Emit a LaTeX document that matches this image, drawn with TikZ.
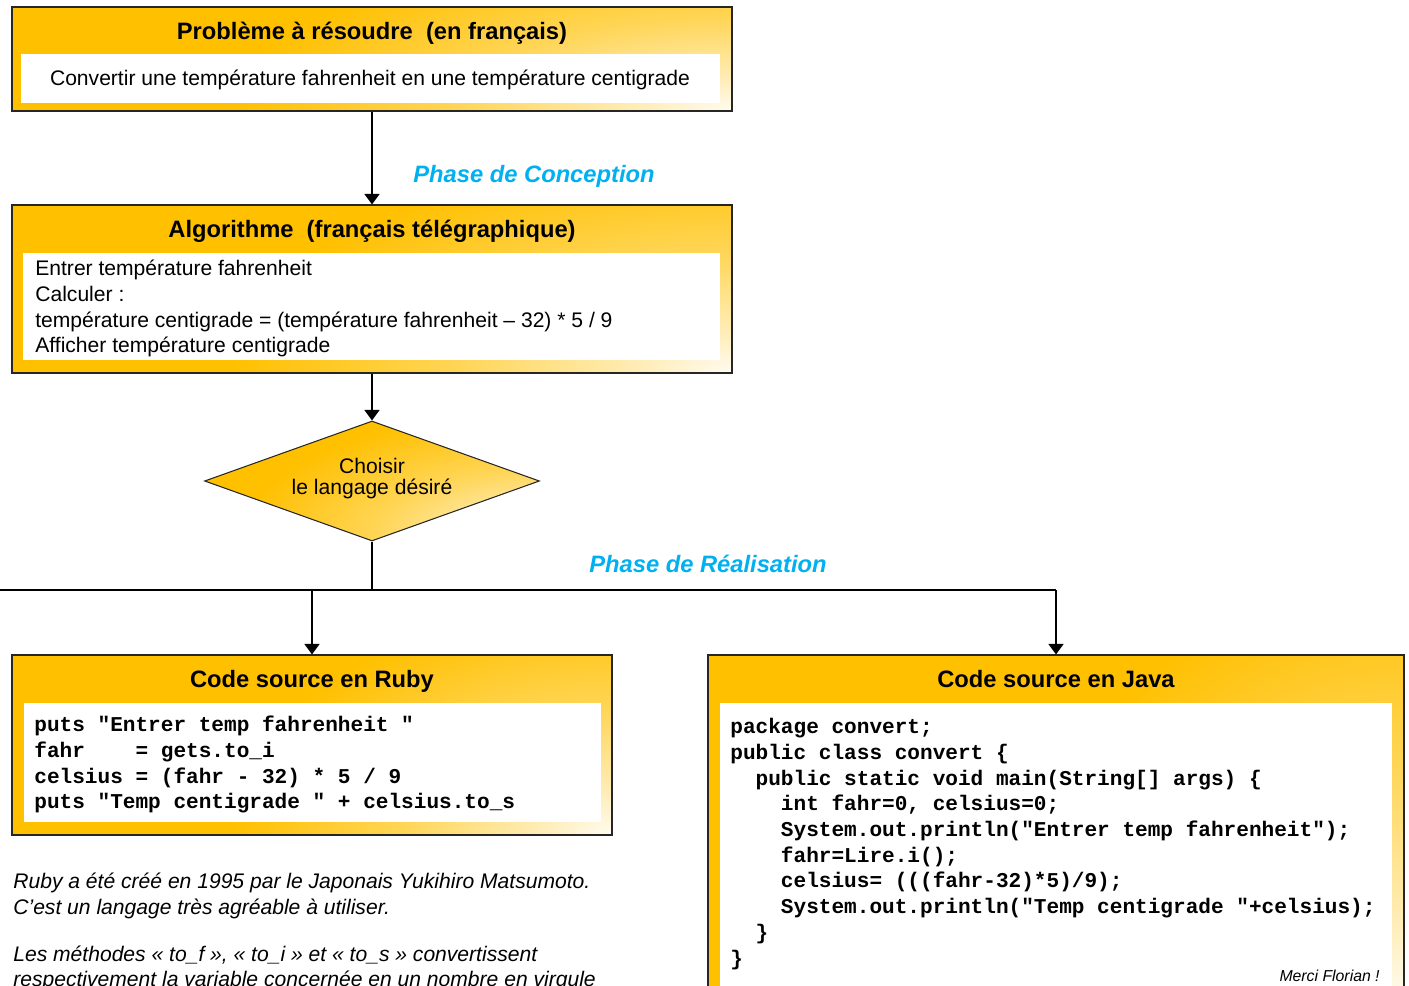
\documentclass[tikz,border=0pt]{standalone}
\usepackage{fontspec}
\setmainfont{Liberation Sans}
\setmonofont{Liberation Mono}
\usetikzlibrary{shapes.geometric,arrows.meta,fit,positioning}

\definecolor{ambre}{HTML}{FFC000}
\definecolor{creme}{HTML}{FFFBF0}
\definecolor{bleuphase}{HTML}{00B0F0}
\pgfdeclareradialshading{coin}{\pgfpointorigin}{color(0bp)=(creme); color(5bp)=(creme!75!ambre); color(14bp)=(creme!35!ambre); color(25bp)=(ambre); color(50bp)=(ambre)}

\tikzset{
  cadre/.style={draw=black!85,line width=0.6pt,inner sep=0pt},
  degrade/.style 2 args={path picture={
      \fill[ambre] (path picture bounding box.south west) rectangle (path picture bounding box.north east);
      \shade[shading=coin] (path picture bounding box.south east) ellipse [x radius=#1, y radius=#2];}},
  feuille/.style={fill=white,inner sep=0pt},
  titre/.style={font=\fontsize{13.5}{16}\selectfont\bfseries,inner sep=0pt,anchor=base},
  texte/.style={font=\fontsize{12}{14.5}\selectfont,inner sep=0pt,anchor=base west},
  source/.style={font=\fontsize{12}{14.5}\selectfont\ttfamily\bfseries,inner sep=0pt,anchor=base west},
  remarque/.style={font=\fontsize{12}{14.5}\selectfont\itshape,inner sep=0pt,anchor=base west},
  phase/.style={font=\fontsize{13.5}{16}\selectfont\bfseries\itshape,text=bleuphase,inner sep=0pt,anchor=base},
  fleche/.style={-{Triangle[length=6pt,width=8.5pt]},line width=1pt},
  trait/.style={line width=1pt},
}

\begin{document}
\begin{tikzpicture}[x=0.02cm,y=-0.02cm]
\useasboundingbox (0,0) rectangle (1409,986);
\clip (0,0) rectangle (1409,986);

% probleme a resoudre
\node[cadre,degrade={10cm}{3.4cm},fit={(12,7) (732,111)}] (probleme) {};
\node[feuille,fit={(21,54) (720,103)}] (feuilleprob) {};
\node[titre] (titreprob) at (372,39.5) {Problème à résoudre\ \ (en français)};
\node[texte,anchor=base] (enonce) at (370,85.5) {Convertir une température fahrenheit en une température centigrade};

% algorithme
\node[cadre,degrade={10cm}{4.4cm},fit={(12,205) (732,373)}] (algo) {};
\node[feuille,fit={(23,253) (720,360)}] (feuillealgo) {};
\node[titre] (titrealgo) at (372,237.5) {Algorithme\ \ (français télégraphique)};
\foreach \ligne [count=\i] in {Entrer température fahrenheit, Calculer :, température centigrade = (température fahrenheit – 32) * 5 / 9, Afficher température centigrade}
  \node[texte] (algo\i) at (35,{250.3+25.67*\i}) {\ligne};

% choix du langage
\node[cadre,degrade={6cm}{2.6cm},diamond,aspect=2.79,minimum width=6.7cm,minimum height=2.4cm,align=center,text depth=5pt,font=\fontsize{12}{12}\selectfont] (choix) at (372,481) {Choisir\\le langage désiré};

% ruby
\node[cadre,degrade={7.6cm}{4.6cm},fit={(12,655) (612,835)}] (ruby) {};
\node[feuille,fit={(24,703) (601,822)}] (feuilleruby) {};
\node[titre] (titreruby) at (312,687.5) {Code source en Ruby};
\foreach \ligne [count=\i] in {{puts "Entrer temp fahrenheit "}, {fahr\ \ \ \ = gets.to\_i}, {celsius = (fahr - 32) * 5 / 9}, {puts "Temp centigrade " + celsius.to\_s}}
  \node[source] (coderuby\i) at (34,{706.3+25.67*\i}) {\ligne};

% java
\node[cadre,degrade={8cm}{8.5cm},fit={(708,655) (1404,1000)}] (java) {};
\node[feuille,fit={(720,703) (1392,1000)}] (feuillejava) {};
\node[titre] (titrejava) at (1056,687.5) {Code source en Java};
\foreach \ligne [count=\i] in {{package convert;}, {public class convert \{}, {\ \ public static void main(String[] args) \{}, {\ \ \ \ int fahr=0, celsius=0;}, {\ \ \ \ System.out.println("Entrer temp fahrenheit");}, {\ \ \ \ fahr=Lire.i();}, {\ \ \ \ celsius= (((fahr-32)*5)/9);}, {\ \ \ \ System.out.println("Temp centigrade "+celsius);}, {\ \ \}}, {\}}}
  \node[source] (codejava\i) at (730,{708.3+25.67*\i}) {\ligne};
\node[font=\fontsize{9}{10}\selectfont\itshape,inner sep=0pt,anchor=base east] (merci) at (1380,981) {Merci Florian !};

% remarques
\foreach \y/\texte [count=\i] in {888.5/{Ruby a été créé en 1995 par le Japonais Yukihiro Matsumoto.}, 914/{C'est un langage très agréable à utiliser.}, 961/{Les méthodes « to\_f », « to\_i » et « to\_s » convertissent}, 986.5/{respectivement la variable concernée en un nombre en virgule}}
  \node[remarque] (remarque\i) at (13,\y) {\texte};

% connecteurs
\coordinate (jonction) at (372,590);
\coordinate (bordgauche) at (0,590);
\draw[fleche] (probleme) -- (algo);
\draw[fleche] (algo) -- (choix);
\draw[trait] (choix.south) -- (jonction);
\draw[trait] (bordgauche) -- (java.north |- jonction);
\draw[fleche] (ruby.north |- jonction) -- (ruby);
\draw[fleche] (java.north |- jonction) -- (java);
\node[phase] (conception) at (534,182.5) {Phase de Conception};
\node[phase] (realisation) at (708,572.5) {Phase de Réalisation};
\end{tikzpicture}
\end{document}
